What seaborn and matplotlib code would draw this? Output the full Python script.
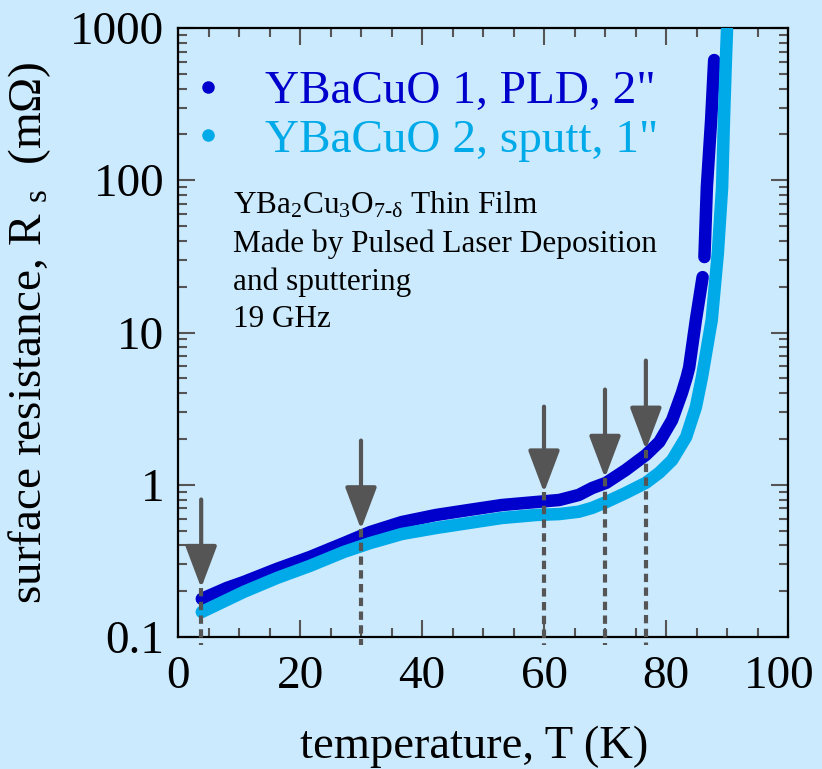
import numpy as np
import pandas as pd
import matplotlib
matplotlib.use("Agg")
import matplotlib.pyplot as plt
import matplotlib.transforms as mtransforms
import seaborn as sns
from matplotlib.lines import Line2D
from matplotlib.ticker import FixedLocator, LogLocator, NullFormatter, MultipleLocator

# ---------------- data ----------------
T1 = [3.9, 8.0, 10.8, 16.2, 21.6, 27.2, 31.5, 36.7, 42.3, 47.7, 53.1, 58.7, 62.5, 65.7,
      67.9, 70.2, 73.4, 76.7, 78.9, 81.0, 82.6, 83.4, 83.8, 84.9, 86.0,
      86.3, 86.7, 87.4, 87.9]
R1 = [0.178, 0.21, 0.23, 0.28, 0.335, 0.414, 0.489, 0.569, 0.633, 0.683, 0.736, 0.77, 0.794, 0.857,
      0.952, 1.03, 1.25, 1.57, 1.91, 2.66, 4.0, 5.1, 5.9, 12.1, 23.1,
      31.3, 90.3, 249, 616]
SEG1 = [0] * 25 + [1] * 4

T2 = [3.9, 8.0, 10.8, 16.2, 21.6, 27.2, 31.5, 36.7, 42.3, 47.7, 53.1, 58.7, 62.5, 65.7,
      67.9, 70.2, 73.4, 76.7, 78.9, 81.0, 83.3, 84.9, 85.9, 87.5, 88.5, 89.2, 89.5, 89.8, 90.0]
R2 = [0.146, 0.175, 0.198, 0.244, 0.293, 0.362, 0.414, 0.475, 0.52, 0.561, 0.605, 0.633, 0.642, 0.665,
      0.705, 0.77, 0.883, 1.03, 1.2, 1.45, 2.06, 3.24, 5.1, 12.1, 33.3, 90.3, 249, 589, 970]

SERIES_LABELS = ['YBaCuO 1, PLD, 2"', 'YBaCuO 2, sputt, 1"']
SERIES_COLORS = ['#0000cc', '#00aae8']

ARROW_T = [3.8, 30, 60, 70, 76.7]
ARROW_TIP = [0.21, 0.51, 0.89, 1.11, 1.70]
ARROW_TAIL = [0.80, 1.95, 3.26, 4.22, 6.54]
DASH_BOTTOM = 0.088

X_TICKS = [0, 20, 40, 60, 80, 100]
Y_TICKS = [0.1, 1, 10, 100, 1000]
Y_TICK_LABELS = ['0.1', '1', '10', '100', '1000']

NOTE_LINES = [r'YBa$_2$Cu$_3$O$_{7\text{-}\mathrm{\delta}}$ Thin Film',
              'Made by Pulsed Laser Deposition',
              'and sputtering',
              '19 GHz']

# ---------------- style ----------------
BG = '#cbeafd'
plt.rcParams['font.family'] = ['Liberation Serif', 'DejaVu Serif']
plt.rcParams['mathtext.fontset'] = 'custom'
plt.rcParams['mathtext.rm'] = 'Liberation Serif'
plt.rcParams['mathtext.it'] = 'Liberation Serif:italic'
plt.rcParams['mathtext.bf'] = 'Liberation Serif:bold'

fig = plt.figure(figsize=(8.22, 7.69), dpi=100, facecolor=BG)
ax = fig.add_axes([178 / 822, 1 - 637 / 769, 610 / 822, 609 / 769])
ax.set_facecolor(BG)

df1 = pd.DataFrame({'T': T1, 'R': R1, 'seg': SEG1})
df2 = pd.DataFrame({'T': T2, 'R': R2, 'seg': [0] * len(T2)})

sns.lineplot(data=df1, x='T', y='R', units='seg', estimator=None, sort=False,
             color=SERIES_COLORS[0], linewidth=9, solid_capstyle='round', ax=ax, legend=False, zorder=3)
sns.lineplot(data=df2, x='T', y='R', units='seg', estimator=None, sort=False,
             color=SERIES_COLORS[1], linewidth=9, solid_capstyle='round', ax=ax, legend=False, zorder=4)

ax.set_yscale('log')
ax.set_xlim(0, 100)
ax.set_ylim(0.1, 1000)

# arrows and dashed drop lines
for t, tip, tail in zip(ARROW_T, ARROW_TIP, ARROW_TAIL):
    ax.plot([t, t], [tip, DASH_BOTTOM], color='#555555', lw=3, ls=(0, (2.0, 1.3)),
            clip_on=False, zorder=6)
    ax.annotate('', xy=(t, tip), xytext=(t, tail),
                arrowprops=dict(arrowstyle='-|>,head_length=1.3,head_width=0.49',
                                mutation_scale=20, color='#555555', lw=3,
                                shrinkA=0, shrinkB=0), zorder=7)

# ticks
ax.xaxis.set_major_locator(FixedLocator(X_TICKS))
ax.xaxis.set_minor_locator(MultipleLocator(5))
ax.set_xticklabels([str(v) for v in X_TICKS])
ax.yaxis.set_major_locator(FixedLocator(Y_TICKS))
ax.yaxis.set_minor_locator(LogLocator(base=10, subs=np.arange(2, 10)))
ax.yaxis.set_minor_formatter(NullFormatter())
ax.set_yticklabels(Y_TICK_LABELS)
ax.tick_params(which='both', direction='in', top=True, right=True, color='#555555')
ax.tick_params(which='major', length=12, width=1.5, labelsize=34, pad=10)
ax.tick_params(which='minor', length=6.5, width=1.5)
ax.tick_params(axis='x', which='major', pad=13.5)
for s in ax.spines.values():
    s.set_linewidth(1.6)
    s.set_color('black')

# shift the last x tick label slightly left so that it stays inside the figure
last = ax.get_xticklabels()[-1]
last.set_transform(last.get_transform() + mtransforms.ScaledTranslation(-9 / 100, 0, fig.dpi_scale_trans))

ax.set_xlabel('temperature, T (K)', fontsize=33.5)
ax.set_ylabel(r'surface resistance, R $_{\mathrm{s}}$  (m$\Omega$)', fontsize=34)
ax.xaxis.set_label_coords(0.485, -0.1445)
ax.yaxis.set_label_coords(-0.205, 0.5)

# legend
handles = [Line2D([], [], ls='', marker='o', markersize=8, color=c) for c in SERIES_COLORS]
ax.legend(handles, SERIES_LABELS, loc='upper left', bbox_to_anchor=(0.0295, 0.931),
          frameon=False, fontsize=34, labelcolor=SERIES_COLORS, borderpad=0, borderaxespad=0,
          handlelength=0.5, handletextpad=0.96, labelspacing=0.12)

# note
note_y = [0.6962, 0.6322, 0.5698, 0.5090]
for txt, yy in zip(NOTE_LINES, note_y):
    ax.text(0.0902, yy, txt, transform=ax.transAxes, fontsize=22.5, va='baseline', ha='left', color='black')

fig.savefig('out.png', dpi=100, facecolor=BG)
